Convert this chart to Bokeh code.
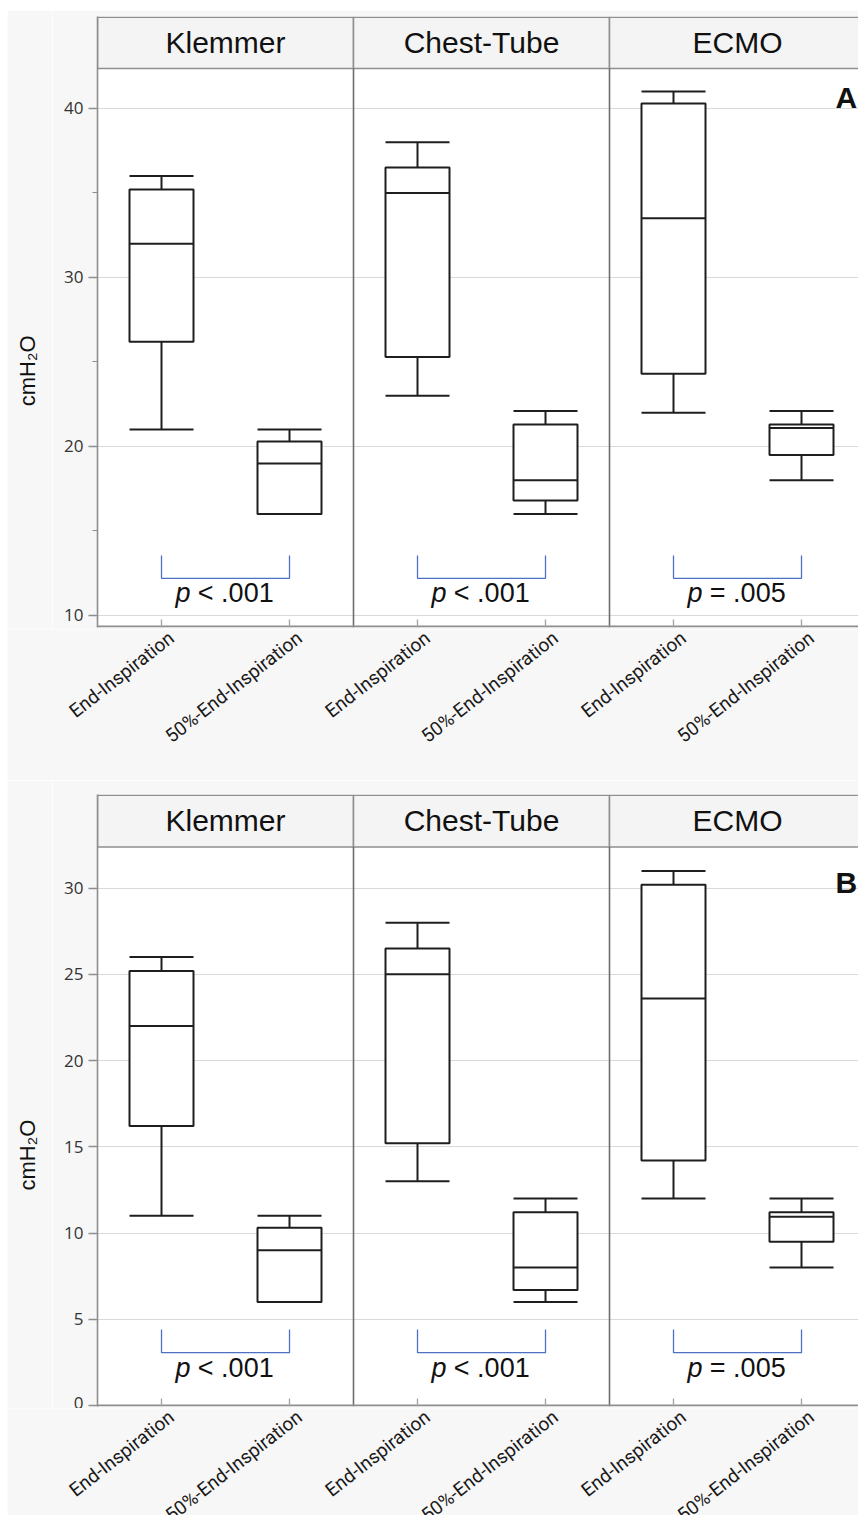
import math
from bokeh.plotting import figure
from bokeh.models import FixedTicker, ColumnDataSource, Range1d
from bokeh.layouts import column, row
from bokeh.embed import file_html
from bokeh.resources import INLINE
from bokeh.core.properties import value

# ---------------- data ----------------
groups = ["Klemmer", "Chest-Tube", "ECMO"]
conditions = ["End-Inspiration", "50%-End-Inspiration"]
p_rest = ["< .001", "< .001", "= .005"]
y_title = "cmH\u2082O"

# order: Klemmer End, Klemmer 50%, Chest End, Chest 50%, ECMO End, ECMO 50%
a_min = [21.0, 16.0, 23.0, 16.0, 22.0, 18.0]
a_q1 = [26.2, 16.0, 25.3, 16.8, 24.3, 19.5]
a_med = [32.0, 19.0, 35.0, 18.0, 33.5, 21.1]
a_q3 = [35.2, 20.3, 36.5, 21.3, 40.3, 21.3]
a_max = [36.0, 21.0, 38.0, 22.1, 41.0, 22.1]
a_ticks = [10, 20, 30, 40]
a_minor = [15, 25, 35]

b_min = [11.0, 6.0, 13.0, 6.0, 12.0, 8.0]
b_q1 = [16.2, 6.0, 15.2, 6.7, 14.2, 9.5]
b_med = [22.0, 9.0, 25.0, 8.0, 23.6, 10.95]
b_q3 = [25.2, 10.3, 26.5, 11.2, 30.2, 11.2]
b_max = [26.0, 11.0, 28.0, 12.0, 31.0, 12.0]
b_ticks = [0, 5, 10, 15, 20, 25, 30]

# ---------------- style / layout ----------------
BG = "#f7f7f7"
AX = "#8e8e8e"
BOX = "#1e1e1e"
SANS_NAME = "Liberation Sans"
SANS = value(SANS_NAME)
TICKF = value("Roboto")

CONTENT_W = 851          # page x 7 .. 858
YLAB_W = 45              # strip holding the y title
MAIN_W = CONTENT_W - YLAB_W
MAIN_LEFT = 45           # frame left at page x 97
FRAME_W = MAIN_W - MAIN_LEFT
PANEL_PX = 256.0         # px per panel (1 data unit)

xs = [g + c for g in range(3) for c in (0.25, 0.75)]
HW = 0.125


def base_strip(w, h, xr):
    s = figure(width=w, height=h, output_backend="svg", toolbar_location=None,
               x_axis_location=None, y_axis_location=None,
               x_range=xr, y_range=Range1d(-h, 0),
               min_border_left=0, min_border_right=0, min_border_top=0, min_border_bottom=0)
    s.background_fill_color = BG
    s.border_fill_color = BG
    s.outline_line_color = None
    s.grid.visible = False
    return s


def make_main(mins, q1s, meds, q3s, maxs, y0, y1, hdr_bottom, ticks, minor,
              br_top, br_bot, txt_y, letter, letter_x, letter_y, btop, frame_h):
    upp = (y1 - y0) / frame_h
    height = btop + frame_h + 2
    p = figure(width=MAIN_W, height=height, output_backend="svg", toolbar_location=None,
               x_axis_location=None,
               x_range=Range1d(0, FRAME_W / PANEL_PX), y_range=Range1d(y0, y1),
               min_border_left=MAIN_LEFT, min_border_right=0,
               min_border_top=btop, min_border_bottom=2)
    p.border_fill_color = BG
    p.background_fill_color = "white"
    p.outline_line_color = None
    p.xgrid.visible = False

    p.yaxis.ticker = FixedTicker(ticks=ticks, minor_ticks=minor)
    p.ygrid.ticker = FixedTicker(ticks=ticks)
    p.ygrid.grid_line_color = "#d9d9d9"
    p.ygrid.grid_line_width = 1.2
    ax = p.yaxis[0]
    ax.axis_line_color = AX
    ax.axis_line_width = 1.6
    ax.major_tick_line_color = AX
    ax.major_tick_line_width = 1.3
    ax.major_tick_out = 9
    ax.major_tick_in = 0
    ax.minor_tick_line_color = AX
    ax.minor_tick_line_width = 1.2
    ax.minor_tick_out = 5
    ax.minor_tick_in = 0
    ax.major_label_text_font = "Open Sans"
    ax.major_label_text_font_size = "17px"
    ax.major_label_text_color = "#333333"
    ax.major_label_standoff = 5

    # header strip
    p.quad(left=[0, 1, 2], right=[1, 2, 3], bottom=hdr_bottom, top=y1 - 0.75 * upp,
           fill_color="#f4f4f4", line_color=AX, line_width=1.5)
    p.text(x=[0.5, 1.5, 2.5], y=[(hdr_bottom + y1) / 2] * 3, text=groups,
           text_align="center", text_baseline="middle", text_font=SANS,
           text_font_size="30px", text_color="#111111")

    # panel dividers
    p.segment(x0=[1, 2], y0=[y0, y0], x1=[1, 2], y1=[hdr_bottom, hdr_bottom],
              line_color="#6f6f6f", line_width=1.6)

    src = ColumnDataSource(dict(x=xs, x0=[x - HW for x in xs], x1=[x + HW for x in xs],
                                mn=mins, q1=q1s, md=meds, q3=q3s, mx=maxs))
    lw = 2.0
    p.segment(x0="x", y0="q3", x1="x", y1="mx", source=src, line_color=BOX, line_width=lw)
    p.segment(x0="x", y0="q1", x1="x", y1="mn", source=src, line_color=BOX, line_width=lw)
    p.segment(x0="x0", y0="mx", x1="x1", y1="mx", source=src, line_color=BOX, line_width=lw)
    p.segment(x0="x0", y0="mn", x1="x1", y1="mn", source=src, line_color=BOX, line_width=lw)
    p.vbar(x="x", bottom="q1", top="q3", width=2 * HW, source=src,
           fill_color="white", line_color=BOX, line_width=lw)
    p.segment(x0="x0", y0="md", x1="x1", y1="md", source=src, line_color=BOX, line_width=lw)

    # x axis line and inner ticks
    p.segment(x0=[0], y0=[y0 + 1 * upp], x1=[3], y1=[y0 + 1 * upp], line_color=AX, line_width=2)
    p.segment(x0=xs, y0=[y0] * 6, x1=xs, y1=[y0 + 8 * upp] * 6, line_color="#a0a0a0", line_width=1.3)

    # significance brackets
    xsb, ysb = [], []
    for g in range(3):
        xsb.append([g + 0.25, g + 0.25, g + 0.75, g + 0.75])
        ysb.append([br_top, br_bot, br_bot, br_top])
    p.multi_line(xs=xsb, ys=ysb, line_color="#4d70c2", line_width=1.3)
    p.text(x=[g + 0.5 - 0.137 for g in range(3)], y=[txt_y] * 3, text=["p"] * 3,
           text_align="right", text_baseline="middle", text_font=SANS,
           text_font_style="italic", text_font_size="27px", text_color="#111111")
    p.text(x=[g + 0.5 - 0.108 for g in range(3)], y=[txt_y] * 3, text=p_rest,
           text_align="left", text_baseline="middle", text_font=SANS,
           text_font_size="27px", text_color="#111111")

    # panel letter
    p.text(x=[letter_x], y=[letter_y], text=[letter], text_align="left",
           text_baseline="alphabetic", text_font=SANS, text_font_style="bold",
           text_font_size="30px", text_color="#111111")
    return p, height


def make_ylab(height, center_from_top):
    s = base_strip(YLAB_W, height, Range1d(0, YLAB_W))
    s.text(x=[20], y=[-center_from_top], text=[y_title], angle=math.pi / 2,
           text_align="center", text_baseline="middle", text_font=SANS,
           text_font_size="22px", text_color="#111111")
    return s


def make_xlab(height, anchor_from_top):
    xr = Range1d(-(YLAB_W + MAIN_LEFT) / PANEL_PX, FRAME_W / PANEL_PX)
    s = base_strip(CONTENT_W, height, xr)
    s.text(x=[x + 10 / PANEL_PX for x in xs], y=[-anchor_from_top] * 6, text=conditions * 3,
           angle=math.radians(38), text_align="right", text_baseline="middle",
           text_font=TICKF, text_font_size="19px", text_color="#1a1a1a")
    return s


# Panel A: page rows 10..629 (frame 16..627), labels 629..780
ma, ha = make_main(a_min, a_q1, a_med, a_q3, a_max, 9.29, 45.44, 42.37, a_ticks, a_minor,
                   13.55, 12.2, 11.36, "A", 2.883, 40.67, 6, 611)
ya = make_ylab(ha, 369 - 10)
xa = make_xlab(151, 6)

# Panel B: page rows 780..1408 (frame 794..1406), labels 1408..1515
mb, hb = make_main(b_min, b_q1, b_med, b_q3, b_max, -0.06, 35.43, 32.38, b_ticks, [],
                   4.41, 3.06, 2.15, "B", 2.883, 30.35, 14, 612)
yb = make_ylab(hb, 1150 - 780)
xb = make_xlab(107, 6)

layout = column(row(ya, ma, spacing=0), xa, row(yb, mb, spacing=0), xb,
                spacing=0, margin=(10, 0, 0, 7))
open("out.html", "w").write(file_html(layout, INLINE))
